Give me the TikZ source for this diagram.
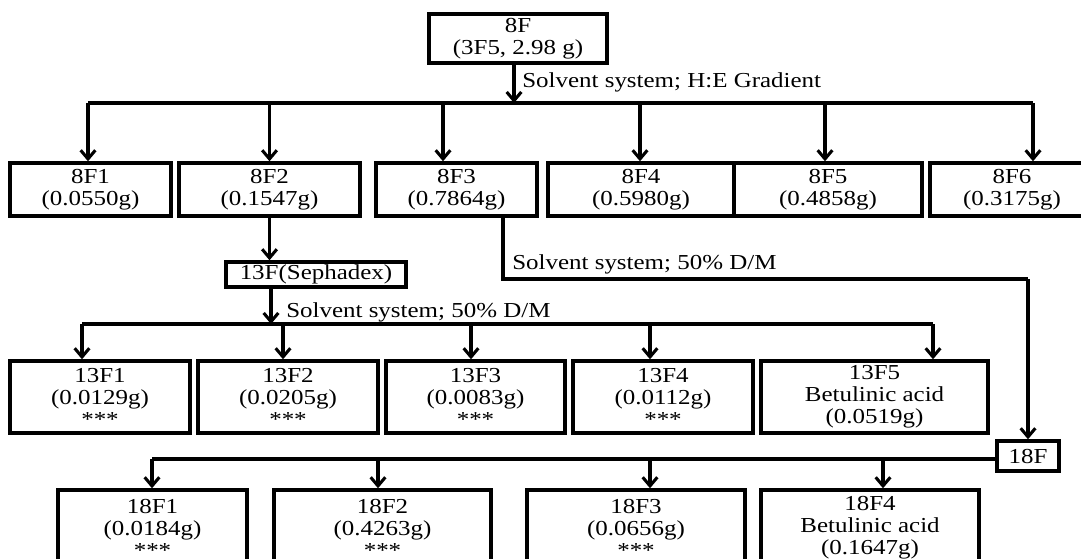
\documentclass[tikz,border=0pt]{standalone}
\usepackage{fontspec}
\setmainfont{Liberation Serif}[FakeStretch=1.17]
\usetikzlibrary{arrows.meta}
\begin{document}
\begin{tikzpicture}[x=0.75pt,y=-0.75pt,
  txt/.style={font=\fontsize{16}{16.5}\selectfont},
  box/.style={txt,draw,line width=2.6pt,inner sep=0pt,align=center},
  wh/.style 2 args={minimum width=#1*0.75pt,minimum height=#2*0.75pt},
  lbl/.style={txt,inner sep=0pt,anchor=base west},
  link/.style={line width=2.3pt},
  arr/.style={link,-{Straight Barb[length=6.5pt,width=11pt]}}]
\clip (0,0) rectangle (1081,558);

% source fraction
\node[box,wh={178}{49}] (n8F) at (518,38.5) {8F\\(3F5, 2.98 g)};

% first column fractions
\node[box,wh={161}{53}] (n8F1) at (90.5,189.5) {8F1\\(0.0550g)};
\node[box,wh={181}{53}] (n8F2) at (269.5,189.5) {8F2\\(0.1547g)};
\node[box,wh={161}{53}] (n8F3) at (456.5,189.5) {8F3\\(0.7864g)};
\node[box,wh={186}{53}] (n8F4) at (641,189.5) {8F4\\(0.5980g)};
\node[box,wh={188}{53}] (n8F5) at (828,189.5) {8F5\\(0.4858g)};
\node[box,wh={164}{53}] (n8F6) at (1012,189.5) {8F6\\(0.3175g)};

% Sephadex column
\node[box,wh={180}{25}] (n13F) at (316,274.5) {13F(Sephadex)};
\node[box,wh={180}{72}] (n13F1) at (100,397) {13F1\\(0.0129g)\\***};
\node[box,wh={180}{72}] (n13F2) at (288,397) {13F2\\(0.0205g)\\***};
\node[box,wh={179}{72}] (n13F3) at (475.5,397) {13F3\\(0.0083g)\\***};
\node[box,wh={180}{72}] (n13F4) at (663,397) {13F4\\(0.0112g)\\***};
\node[box,wh={227}{72}] (n13F5) at (874.5,397) {13F5\\Betulinic acid\\(0.0519g)};

% second column from 8F3
\node[box,wh={62}{30}] (n18F) at (1028,456) {18F};
\node[box,wh={189}{76}] (n18F1) at (152.5,528) {18F1\\(0.0184g)\\***};
\node[box,wh={217}{76}] (n18F2) at (382.5,528) {18F2\\(0.4263g)\\***};
\node[box,wh={218}{76}] (n18F3) at (636,528) {18F3\\(0.0656g)\\***};
\node[box,wh={218}{76}] (n18F4) at (870,528) {18F4\\Betulinic acid\\(0.1647g)};

% bus points
\coordinate (s8) at (514,103);
\coordinate (b1) at (88,103);
\coordinate (b2) at (269.5,103);
\coordinate (b3) at (443,103);
\coordinate (b4) at (640,103);
\coordinate (b5) at (825,103);
\coordinate (b6) at (1033,103);

\coordinate (s13) at (271,324);
\coordinate (c1) at (82,324);
\coordinate (c2) at (283,324);
\coordinate (c3) at (471,324);
\coordinate (c4) at (650,324);
\coordinate (c5) at (933,324);

\coordinate (k3) at (503,279);
\coordinate (k18) at (1028,279);

\coordinate (d1) at (152,459);
\coordinate (d2) at (378,459);
\coordinate (d3) at (650,459);
\coordinate (d4) at (883,459);

% 8F split
\draw[arr] (s8 |- n8F.south) -- (s8);
\draw[link] (b1) -- (b6);
\foreach \b/\n in {b1/n8F1,b2/n8F2,b3/n8F3,b4/n8F4,b5/n8F5,b6/n8F6}
  \draw[arr] (\b) -- (\b |- \n.north);
\node[lbl] (l1) at (522,87) {Solvent system; H:E Gradient};

% 8F2 to Sephadex and its split
\draw[arr] (n8F2.south) -- (n8F2.south |- n13F.north);
\draw[arr] (s13 |- n13F.south) -- (s13);
\draw[link] (c1) -- (c5);
\foreach \b/\n in {c1/n13F1,c2/n13F2,c3/n13F3,c4/n13F4,c5/n13F5}
  \draw[arr] (\b) -- (\b |- \n.north);
\node[lbl] (l2) at (286,317) {Solvent system; 50\% D/M};

% 8F3 to 18F and its split
\draw[link] (k3 |- n8F3.south) -- (k3) -- (k18);
\draw[arr] (k18) -- (n18F.north);
\node[lbl] (l3) at (512,269) {Solvent system; 50\% D/M};
\draw[link] (n18F.west |- d1) -- (d1);
\foreach \b/\n in {d1/n18F1,d2/n18F2,d3/n18F3,d4/n18F4}
  \draw[arr] (\b) -- (\b |- \n.north);
\end{tikzpicture}
\end{document}
